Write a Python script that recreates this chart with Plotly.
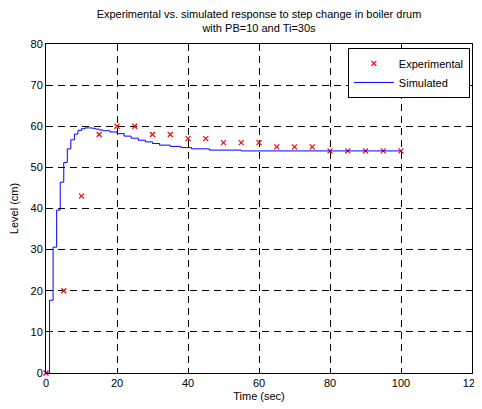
import plotly.graph_objects as go

# Experimental readings (sec, cm)
exp_time = [0, 5, 10, 15, 20, 25, 30, 35, 40, 45, 50, 55, 60, 65, 70, 75, 80, 85, 90, 95, 100]
exp_level = [0, 20, 43, 58, 60, 60, 58, 58, 57, 57, 56, 56, 56, 55, 55, 55, 54, 54, 54, 54, 54]

# Simulated response (step held between samples)
sim_time = [0, 1, 2, 3, 4, 5, 6, 7, 8, 9, 10, 11, 12, 13, 14, 15, 16, 18, 20, 22,
            24, 26, 28, 30, 32, 35, 38, 41, 46, 55, 100]
sim_level = [0, 17.7, 30.6, 39.6, 46.4, 51.2, 54.5, 56.7, 58.1, 59.0, 59.4, 59.6, 59.6, 59.5, 59.3,
             59.1, 58.9, 58.6, 58.2, 57.6, 57.1, 56.6, 56.2, 55.8, 55.4, 55.1, 54.8, 54.5, 54.2, 54.0, 54.0]

x_ticks = [0, 20, 40, 60, 80, 100, 120]
y_ticks = [0, 10, 20, 30, 40, 50, 60, 70, 80]

font = dict(family="Liberation Sans, Arial, sans-serif", size=11, color="black")

fig = go.Figure()
fig.add_trace(go.Scatter(
    x=exp_time, y=exp_level, name="Experimental", mode="markers",
    marker=dict(symbol="x-thin", size=5, color="red", line=dict(color="red", width=1.2)),
    cliponaxis=False,
))
fig.add_trace(go.Scatter(
    x=sim_time, y=sim_level, name="Simulated", mode="lines",
    line=dict(color="blue", width=1, shape="hv"),
))

axis = dict(
    showline=True, linecolor="black", linewidth=1, mirror="ticks",
    ticks="inside", ticklen=5, tickcolor="black",
    showgrid=True, gridcolor="black", gridwidth=1, griddash="7px,5px",
    zeroline=False, tickfont=font, automargin=False,
)

fig.update_xaxes(axis, range=[0, 120], tickvals=x_ticks,
                 title=dict(text="Time (sec)", font=font, standoff=4))
fig.update_yaxes(axis, range=[0, 80], tickvals=y_ticks,
                 title=dict(text="Level (cm)", font=font, standoff=12))

# the page body adds an 8px margin, so the figure is 8px smaller and shifted
fig.update_layout(
    width=474, height=401,
    margin=dict(l=38, r=10, t=36, b=36),
    paper_bgcolor="white", plot_bgcolor="white",
    font=font,
    title=dict(
        text="Experimental vs. simulated response to step change in boiler drum<br>with PB=10 and Ti=30s",
        x=0.5, xref="paper", xanchor="center",
        y=1 - 10 / 401, yref="container", yanchor="top",
        font=font,
    ),
    legend=dict(
        x=0.995, y=0.988, xanchor="right", yanchor="top",
        xref="paper", yref="paper",
        bgcolor="white", bordercolor="black", borderwidth=1,
        font=font, tracegroupgap=0, itemwidth=40,
    ),
    showlegend=True,
)

fig.write_html("out.html")
